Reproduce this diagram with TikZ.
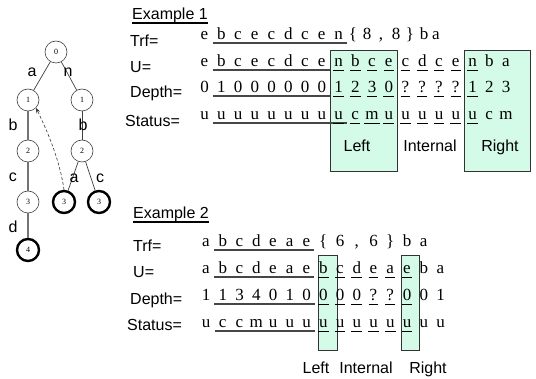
\documentclass[tikz,border=0pt]{standalone}
\usepackage{fontspec}
\setmainfont{Liberation Serif}
\setsansfont{Liberation Sans}
\usetikzlibrary{calc,arrows.meta}
\definecolor{boxfill}{RGB}{212,250,232}
\definecolor{ulgray}{RGB}{70,70,70}
\tikzset{
  ch/.style={anchor=base,inner sep=0pt,font=\fontsize{17}{20}\selectfont},
  lbl/.style={anchor=base west,inner sep=0pt,font=\sffamily\fontsize{16}{19}\selectfont},
  captxt/.style={anchor=base,inner sep=0pt,font=\sffamily\fontsize{16}{19}\selectfont},
  hbox/.style={draw=black!80,fill=boxfill,line width=0.9pt},
  longul/.style={draw=ulgray,line width=1.3pt},
  ul/.style={draw=black,line width=0.9pt},
  tnode/.style={circle,draw=black!75,line width=0.6pt,minimum size=22pt,inner sep=0pt,font=\fontsize{8}{9}\selectfont,fill=white},
  leaf/.style={tnode,draw=black,line width=2.4pt},
  elbl/.style={inner sep=0pt,font=\sffamily\fontsize{16}{19}\selectfont},
  thinedge/.style={draw=black!75,line width=0.7pt},
  grayedge/.style={draw=black!55,line width=1.4pt},
  backarrow/.style={draw=black!80,line width=0.6pt,dash pattern=on 3pt off 2pt,-{Stealth[length=5pt,width=4pt]}}
}
\begin{document}
\begin{tikzpicture}[x=1pt,y=-1pt]
\useasboundingbox (0,0) rectangle (536,379);
\fill[white] (0,0) rectangle (536,379);

% ---------------- tree ----------------
\node[tnode] (t0) at (56,52) {0};
\node[tnode] (tl1) at (28,100) {1};
\node[tnode] (tr1) at (82,100) {1};
\node[tnode] (tl2) at (28,151) {2};
\node[tnode] (tr2) at (82,151) {2};
\node[tnode] (tl3) at (28,202) {3};
\node[leaf] (tb3a) at (64,202) {3};
\node[leaf] (tb3b) at (99,202) {3};
\node[leaf] (tl4) at (28,250) {4};
\draw[thinedge] (t0) -- (tl1);
\draw[thinedge] (t0) -- (tr1);
\draw[grayedge] (tl1) -- (tl2);
\draw[grayedge] (tl2) -- (tl3);
\draw[grayedge] (tl3) -- (tl4);
\draw[thinedge] (tr1) -- (tr2);
\draw[thinedge] (tr2) -- (tb3a);
\draw[thinedge] (tr2) -- (tb3b);
\draw[backarrow] (tb3a.north) .. controls (60,160) and (46,128) .. (tl1.south east);
\node[elbl] (ea) at (32,72) {a};
\node[elbl] (en) at (68,72) {n};
\node[elbl] (eb1) at (13,125) {b};
\node[elbl] (ec1) at (13,177) {c};
\node[elbl] (ed1) at (13,227) {d};
\node[elbl] (eb2) at (83,125) {b};
\node[elbl] (ea2) at (74,178) {a};
\node[elbl] (ec2) at (100,178) {c};

% ---------------- Example 1 ----------------
\node[lbl] (ex1) at (132,20) {Example 1};
\draw[line width=1.4pt] ($(ex1.base west)+(0,3)$) -- ($(ex1.base east)+(0,3)$);
\node[lbl] (l1trf) at (130,47) {Trf=};
\node[lbl] (l1u) at (130,73) {U=};
\node[lbl] (l1d) at (130,98) {Depth=};
\node[lbl] (l1s) at (125,127) {Status=};

\draw[hbox] (330,50) rectangle (397,171);
\draw[hbox] (464,50) rectangle (530,171);

\foreach \c [count=\i from 0] in {e,b,c,e,c,d,c,e,n}
  \node[ch] (aT\i) at ({204.5+16.75*\i},40) {\c};
\node[ch] (aT9) at (353,40) {\{};
\node[ch] (aT10) at (367,40) {8};
\node[ch] (aT11) at (381,40) {,};
\node[ch] (aT12) at (396,40) {8};
\node[ch] (aT13) at (410,40) {\}};
\node[ch] (aT14) at (424,40) {b};
\node[ch] (aT15) at (436,40) {a};
\foreach \c [count=\i from 0] in {e,b,c,e,c,d,c,e,n,b,c,e,c,d,c,e,n,b,a}
  \node[ch] (aU\i) at ({204.5+16.75*\i},67) {\c};
\foreach \c [count=\i from 0] in {0,1,0,0,0,0,0,0,1,2,3,0,?,?,?,?,1,2,3}
  \node[ch] (aD\i) at ({204.5+16.75*\i},93) {\c};
\foreach \c [count=\i from 0] in {u,u,u,u,u,u,u,u,u,c,m,u,u,u,u,u,u,c,m}
  \node[ch] (aS\i) at ({204.5+16.75*\i},120) {\c};

\draw[longul] ($(aT1.base west)+(-4,3)$) -- ($(aT8.base east)+(4,3)$);
\draw[longul] ($(aU1.base west)+(-4,3)$) -- ($(aU7.base east)+(4,3)$);
\draw[longul] ($(aD1.base west)+(-4,3)$) -- ($(aD7.base east)+(4,3)$);
\draw[longul] ($(aS1.base west)+(-4,3)$) -- ($(aS8.base east)+(4,3)$);
\foreach \r in {aU,aD,aS}
  \foreach \i in {8,...,16}
    \draw[ul] ($(\r\i.base west)+(-1,3)$) -- ($(\r\i.base east)+(1,3)$);

\node[captxt] (c1l) at (357,152) {Left};
\node[captxt] (c1i) at (430,152) {Internal};
\node[captxt] (c1r) at (500,152) {Right};

% ---------------- Example 2 ----------------
\node[lbl] (ex2) at (133,219) {Example 2};
\draw[line width=1.4pt] ($(ex2.base west)+(0,3)$) -- ($(ex2.base east)+(0,3)$);
\node[lbl] (l2trf) at (133,252) {Trf=};
\node[lbl] (l2u) at (133,278) {U=};
\node[lbl] (l2d) at (130,305) {Depth=};
\node[lbl] (l2s) at (127,331) {Status=};

\draw[hbox] (318,255) rectangle (337,350);
\draw[hbox] (401,255) rectangle (419,350);

\foreach \c [count=\i from 0] in {a,b,c,d,e,a,e,\{,6,{,},6,\},b,a}
  \node[ch] (bT\i) at ({206+16.75*\i},247) {\c};
\foreach \c [count=\i from 0] in {a,b,c,d,e,a,e,b,c,d,e,a,e,b,a}
  \node[ch] (bU\i) at ({206+16.75*\i},274) {\c};
\foreach \c [count=\i from 0] in {1,1,3,4,0,1,0,0,0,0,?,?,0,0,1}
  \node[ch] (bD\i) at ({206+16.75*\i},301) {\c};
\foreach \c [count=\i from 0] in {u,c,c,m,u,u,u,u,u,u,u,u,u,u,u}
  \node[ch] (bS\i) at ({206+16.75*\i},328) {\c};

\foreach \r in {bT,bU,bD,bS}
  \draw[longul] ($(\r1.base west)+(-4,3)$) -- ($(\r6.base east)+(4,3)$);
\foreach \r in {bU,bD,bS}
  \foreach \i in {7,...,12}
    \draw[ul] ($(\r\i.base west)+(-1,3)$) -- ($(\r\i.base east)+(1,3)$);

\node[captxt] (c2l) at (316,374) {Left};
\node[captxt] (c2i) at (366,374) {Internal};
\node[captxt] (c2r) at (428,374) {Right};
\end{tikzpicture}
\end{document}
